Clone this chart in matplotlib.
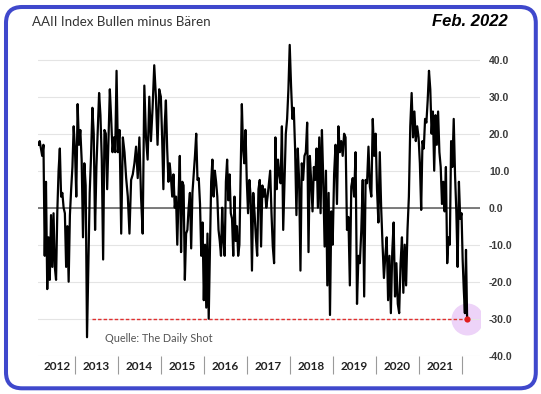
import numpy as np
import matplotlib.pyplot as plt
from matplotlib.patches import FancyBboxPatch

# AAII sentiment: bulls minus bears (%), one list per calendar year
v2012 = [17, 18, 16, 14, 17, -13, 7, -22, -8, -19.5, -2, -16, -1.5, -16, -19.5, -1, 10, 16, 3, 4,
         0, -1.5, -16, -5, -20, -2, 5, 11, 22]
v2013 = [16, 3, 28, 17, 21, 13, -8, 12, 6, -35, -15, 4, 14, 27, 20, -6, 11, 21, 31, 25, 13, -14,
         21, 20, 5, 19, 32, 24, 15, 19, 15, 37]
v2014 = [15, 21, -7, 19, 15, 8, 3, -7, 7.5, 9, 12, 16.5, 8, 19, 3, -7, 33, 19, 13, 30, 18, 27,
         38.5, 30, 17, 32]
v2015 = [30, 19, 5, 22, 29, 16, 7, 12, 8, 3, 9, 0, 3, -10, 3, 14, -12, 7, 6, -19.5, -7, -6, 0, 4,
         -11, 4, 9, 14, 20, 7.5, 8, 1, -13, -4]
v2016 = [-25, -10, -27, -7, -30, -12, 7, 13, 3, 10, 7, 3, -6, -9, -13, 0, -9, -13, 7, 13, 2, 9,
         -1.5, -3, -13, 3, -9, -5, -13, -10, 9, 28, 16, 12, 21]
v2017 = [7.5, -1.5, 7.5, 3, -17, 4, -1.5, -8, -13, 5, 7.5, -10.5, 6, 3, 5, 0, 3, 6.6, 10, -1.5,
         -10.5, -15, 19, 5, 13, 9, 6.6, 22, -6, 7.5, 20, 24, 32]
v2018 = [44, 33, 24, 27, 16, -2, 16, 7.5, -17, 12, 7.5, 14, 15, 23, -12, 14, 7, -1, 11, 7.5, 16,
         0, 19, -1.5, 21, 7.5, -10.5, 10, -21, 4, -29, -1]
v2019 = [-10, 9, 17, 1, 22, 15, 18, 14, 20, 19, -6, -2.5, -21, 5.7, 8, 3, 15, -26, -13, -15, -6,
         7.5, -24, 7.5, 6.6, 16.5, 5.7, 3, 24, 14]
v2020 = [20, 5, -4, 15, 0, -10, -19, -13, -8, -25, -13, -28.5, -12, -4, -24, -15, -26, -28.5, -15,
         -8, -23, -10, -21, -6, 3, 22, 31, 19, 26, 18, 22]
v2021 = [19, 12, -0.6, 18, 16, 24, 23, 29, 37, 32, 20, 26, 10, 25, 17, 26, 15, 11, 1, 7, -1, 11,
         -15, -8, -10, 18, 11, 24, 9, -1, -16, 7, -3]
v2022 = [-1.5, -14, -22, -28.5, -11.4, -30]

years = list(range(2012, 2023))
yearly = [v2012, v2013, v2014, v2015, v2016, v2017, v2018, v2019, v2020, v2021, v2022]
year_labels = [str(y) for y in range(2012, 2022)]
first_date = 2012.15   # series starts mid-Feb 2012
last_date = 2022.13    # last reading, Feb 2022
threshold = -30
threshold_from = 2013.4

# spread each year's readings over that year
t_parts = []
for yr, vals in zip(years, yearly):
    start = first_date if yr == 2012 else yr
    if yr == 2022:
        t_parts.append(np.linspace(start, last_date, len(vals)))
    else:
        t_parts.append(np.linspace(start, yr + 1, len(vals), endpoint=False))
t = np.concatenate(t_parts)
vals = np.concatenate([np.array(v, dtype=float) for v in yearly])

W, H = 541, 394
fig = plt.figure(figsize=(W / 100, H / 100), dpi=100)

# rounded blue frame
bg = fig.add_axes([0, 0, 1, 1])
bg.set_xlim(0, W)
bg.set_ylim(0, H)
bg.axis('off')
bg.add_patch(FancyBboxPatch((6, 5.7), 529.8, 381.3, boxstyle="round,pad=0,rounding_size=16",
                            lw=2.9, ec='#3f48cc', fc='none'))

ax = fig.add_axes([38 / W, 38.3 / H, 442 / W, (355.7 - 33.8) / H])
ax.set_facecolor('none')
ax.set_xlim(2012.14, 2022.43)
ax.set_ylim(-40, 47)

ax.plot(t, vals, color='black', lw=1.6, zorder=3)
ax.axhline(0, color='#666666', lw=1.2, zorder=2)
ax.plot([threshold_from, last_date], [threshold, threshold], color='#e03030', lw=1,
        ls=(0, (2.5, 1.5)), zorder=2)
ax.scatter([last_date], [vals[-1]], s=530, color='#edd3f8', zorder=1, lw=0)
ax.scatter([last_date], [vals[-1]], s=20, color='#e01c1c', zorder=4, lw=0)

# y axis on the right
yt = list(range(-40, 50, 10))
ax.yaxis.tick_right()
ax.set_yticks(yt)
ax.set_yticklabels(['%.1f' % v for v in yt], fontfamily='Liberation Sans', fontweight='bold',
                   fontsize=7.5, color='#3a3a3a')
ax.tick_params(axis='y', length=0, pad=6.5)
ax.grid(axis='y', color='#e4e4e4', lw=0.8, zorder=0)

# year separators + centred year labels
ax.set_xticks(list(range(2013, 2023)))
ax.set_xticklabels([])
ax.tick_params(axis='x', which='major', direction='out', length=13, width=0.8, color='#9a9a9a')
mids = [(first_date + 2013) / 2] + [y + 0.5 for y in range(2013, 2022)]
ax.set_xticks(mids, minor=True)
ax.set_xticklabels(year_labels, minor=True, fontfamily='Lato', fontweight='bold', fontsize=8.5,
                   color='#222222')
ax.tick_params(axis='x', which='minor', length=0, pad=4)

for s in ax.spines.values():
    s.set_visible(False)

fig.text(32 / W, 1 - 22.5 / H, 'AAII Index Bullen minus Bären', fontfamily='Lato', fontsize=9.6,
         color='#333333', va='center', ha='left')
fig.text(508 / W, 1 - 21 / H, 'Feb. 2022', fontfamily='Liberation Sans', fontweight='bold',
         style='italic', fontsize=12, color='black', va='center', ha='right')
fig.text(105 / W, 1 - 338 / H, 'Quelle: The Daily Shot', fontfamily='Lato', fontsize=7.8,
         color='#555555', va='center', ha='left')

fig.savefig('out.png', dpi=100)
